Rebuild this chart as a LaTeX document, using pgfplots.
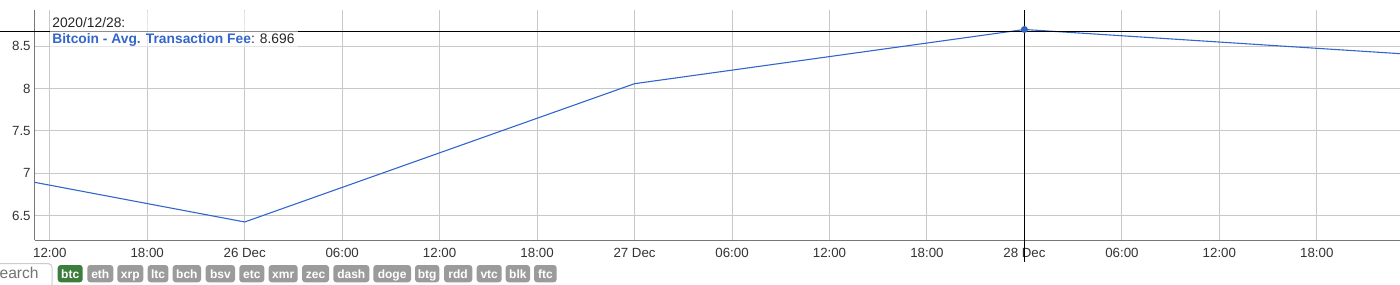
\documentclass[border=0pt]{standalone}
\usepackage{pgfplots}
\pgfplotsset{compat=1.18}
\usepackage{fontspec}
\setmainfont{Liberation Sans}
\definecolor{lineblue}{HTML}{3366CC}
\definecolor{gridgray}{HTML}{C8C8C8}
\definecolor{axisgray}{HTML}{777777}
\definecolor{txt}{HTML}{333333}
\definecolor{btngreen}{HTML}{3C7D3C}
\definecolor{btngray}{HTML}{9B9B9B}
\begin{document}
\begin{tikzpicture}[x=1pt,y=1pt]
\useasboundingbox (0,0) rectangle (700,142);
\begin{axis}[
  at={(17.25pt,22pt)}, anchor=south west, scale only axis,
  width=682.75pt, height=114.75pt,
  xmin=-12.94, xmax=71.12, ymin=6.2134, ymax=8.92,
  axis lines=left, axis line style={-, axisgray, line width=0.5pt},
  xtick={-12,-6,...,66},
  xticklabels={12:00,18:00,26 Dec,06:00,12:00,18:00,27 Dec,06:00,12:00,18:00,28 Dec,06:00,12:00,18:00},
  ytick={6.5,7,7.5,8,8.5}, yticklabels={6.5,7,7.5,8,8.5},
  grid=major, major grid style={gridgray, line width=0.5pt},
  major tick length=0pt,
  tick label style={font=\fontsize{6.65}{8}\selectfont, text=txt},
  xticklabel style={anchor=north, inner sep=0pt, yshift=-4.1pt},
  yticklabel style={anchor=east, inner sep=0pt, xshift=-1.75pt},
  clip mode=individual,
]
\addplot[lineblue, line width=0.55pt] coordinates {(-24,7.294) (0,6.426) (24,8.057) (48,8.696) (72,8.400)};
\draw[black, line width=0.5pt] (axis cs:-15.1,8.675) -- (axis cs:71.2,8.675);
\draw[black, line width=0.5pt] (axis cs:48,8.92) -- (axis cs:48,5.955);
\addplot[only marks, mark=*, mark size=1.5pt, draw=lineblue!85!black, fill=lineblue] coordinates {(48,8.696)};
\end{axis}
% tooltip
\fill[white, opacity=0.55] (25,118.5) rectangle (149,136.5);
\node[anchor=base west, inner sep=0pt, font=\fontsize{6.9}{8}\selectfont, text=black!85] at (26,128) {2020/12/28:};
\node[anchor=base west, inner sep=0pt, font=\fontsize{6.9}{8}\selectfont, text=black!85] at (26,120.15) {\textcolor{lineblue}{\bfseries Bitcoin - Avg. Transaction Fee}: 8.696};
% search box
\draw[black!20, line width=0.5pt, fill=white, rounded corners=2pt] (-10,-2) rectangle (26,10.25);
\node[anchor=base east, inner sep=0pt, font=\fontsize{7.8}{9}\selectfont, text=black!55] at (19.5,2.7) {Search};
% buttons
\fill[btngreen, rounded corners=1.5pt] (28.85,0.85) rectangle (41.35,9.5);
\node[anchor=base, inner sep=0pt, text=white, font=\bfseries\fontsize{6}{7}\selectfont] at (35.1,3) {btc};
\foreach \a/\b/\t in {87.3/113.3/eth, 117.3/143.3/xrp, 147.7/168.3/ltc, 172.7/201/bch, 205.7/235/bsv, 239.3/264.3/etc, 268.7/297.7/xmr, 302/329/zec, 333.3/369.3/dash, 373.3/411/doge, 415/439.3/btg, 444/472.3/rdd, 476.7/501.7/vtc, 505.7/530/blk, 534/556.7/ftc} {
  \fill[btngray, rounded corners=1.5pt] ({\a*0.5},0.85) rectangle ({\b*0.5},9.5);
  \node[anchor=base, inner sep=0pt, text=white, font=\bfseries\fontsize{6}{7}\selectfont] at ({(\a+\b)*0.25},3) {\t};
}
\end{tikzpicture}
\end{document}
